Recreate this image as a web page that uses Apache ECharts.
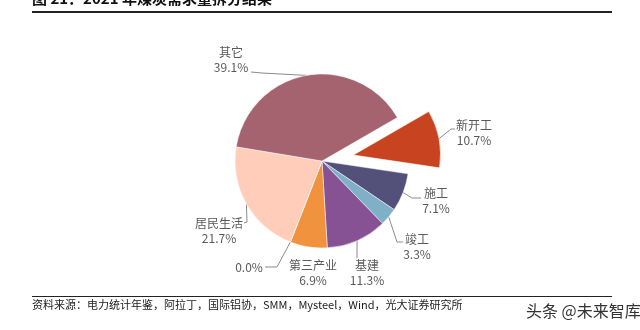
<!DOCTYPE html>
<html>
<head>
<meta charset="utf-8">
<script src="https://cdn.jsdelivr.net/npm/echarts@6/dist/echarts.min.js"></script>
<style>
html,body{margin:0;padding:0;background:#fff;}
#c{width:640px;height:330px;}
</style>
</head>
<body>
<div id="c"></div>
<script>
// Data
const categories = ['新开工', '施工', '竣工', '基建', '第三产业', '', '居民生活', '其它'];
const shares = [10.7, 7.1, 3.3, 11.3, 6.9, 0.0, 21.7, 39.1];
const explodedIndex = 0; // 新开工 is pulled out of the pie
const colors = ['#C8431F', '#53507A', '#7FB0C8', '#865294', '#F0923E', '#F4B183', '#FFCDBA', '#A5636F'];
const titleText = '图 21：2021 年煤炭需求量拆分结果';
const sourceText = '资料来源：电力统计年鉴，阿拉丁，国际铝协，SMM，Mysteel，Wind，光大证券研究所';
const watermark = '头条 @未来智库';

// Layout only: label centres and leader-line bend / end points
const labelPos = [[474,133],[436,201],[417,247],[367,273],[313,273],[249,267],[219,231],[231,60]];
const leaderEnds = [
  [[451,129],[455,129]],
  [[412,198],[421,198]],
  [[397,242],[403,242]],
  [[357,250],[357,258]],
  null,
  [[277,267],[265,267]],
  [[247,222],[244,223]],
  [[262,73],[251,72]]
];
const pieCenter = [322, 161];
const pieRadius = 87;
const startAngle = 30;
const explodeDist = 32;

// Offset of the exploded slice along its mid angle (from the data)
const total = shares.reduce((a, b) => a + b, 0);
let before = 0;
for (let i = 0; i < explodedIndex; i++) before += shares[i];
const midDeg = startAngle - (before + shares[explodedIndex] / 2) / total * 360;
const midRad = midDeg * Math.PI / 180;
const explodedCenter = [pieCenter[0] + explodeDist * Math.cos(midRad), pieCenter[1] - explodeDist * Math.sin(midRad)];

const chart = echarts.init(document.getElementById('c'), null, {renderer:'canvas'});
const cjk = '"Noto Sans CJK SC", "Liberation Sans", sans-serif';

function makeSeries(center, showItem) {
  return {
    type: 'pie',
    center: center,
    radius: pieRadius,
    startAngle: startAngle,
    clockwise: true,
    silent: true,
    avoidLabelOverlap: false,
    itemStyle: {borderColor:'#fff', borderWidth:0.5},
    emphasis: {disabled: true},
    label: {
      show: true,
      position: 'outside',
      color: '#595959',
      fontSize: 12,
      lineHeight: 15,
      fontFamily: cjk,
      formatter: p => (p.name ? p.name + '\n' : '') + p.value.toFixed(1) + '%'
    },
    labelLine: {show: true, length: 8, length2: 8, lineStyle:{color:'#8c8c8c', width:1}},
    labelLayout: function(params){
      const i = params.dataIndex;
      const pos = labelPos[i];
      const out = {x: pos[0], y: pos[1], align: 'center', verticalAlign: 'middle'};
      const ends = leaderEnds[i];
      if (ends && params.labelLinePoints) {
        out.labelLinePoints = [params.labelLinePoints[0], ends[0], ends[1]];
      }
      return out;
    },
    data: categories.map((c, i) => {
      const vis = showItem(i);
      return {
        name: c,
        value: shares[i],
        itemStyle: vis ? {color: colors[i]} : {color: 'rgba(0,0,0,0)', borderWidth: 0},
        label: {show: vis},
        labelLine: {show: vis && i !== 4}
      };
    })
  };
}

chart.setOption({
  animation: false,
  backgroundColor: '#fff',
  graphic: [
    {type:'text', left: 32, top: -9, style:{text: titleText, font: 'bold 15px ' + cjk, fill:'#111'}},
    {type:'rect', shape:{x:32, y:11, width:580, height:2}, style:{fill:'#222'}},
    {type:'rect', shape:{x:32, y:296, width:580, height:1}, style:{fill:'#222'}},
    {type:'text', left: 32, top: 299, style:{text: sourceText, font: '11px ' + cjk, fill:'#222'}},
    {type:'text', left: 526, top: 303, style:{text: watermark, font: '16px ' + cjk, fill:'#333'}}
  ],
  series: [
    makeSeries(pieCenter, i => i !== explodedIndex),
    makeSeries(explodedCenter, i => i === explodedIndex)
  ]
});
</script>
</body>
</html>
